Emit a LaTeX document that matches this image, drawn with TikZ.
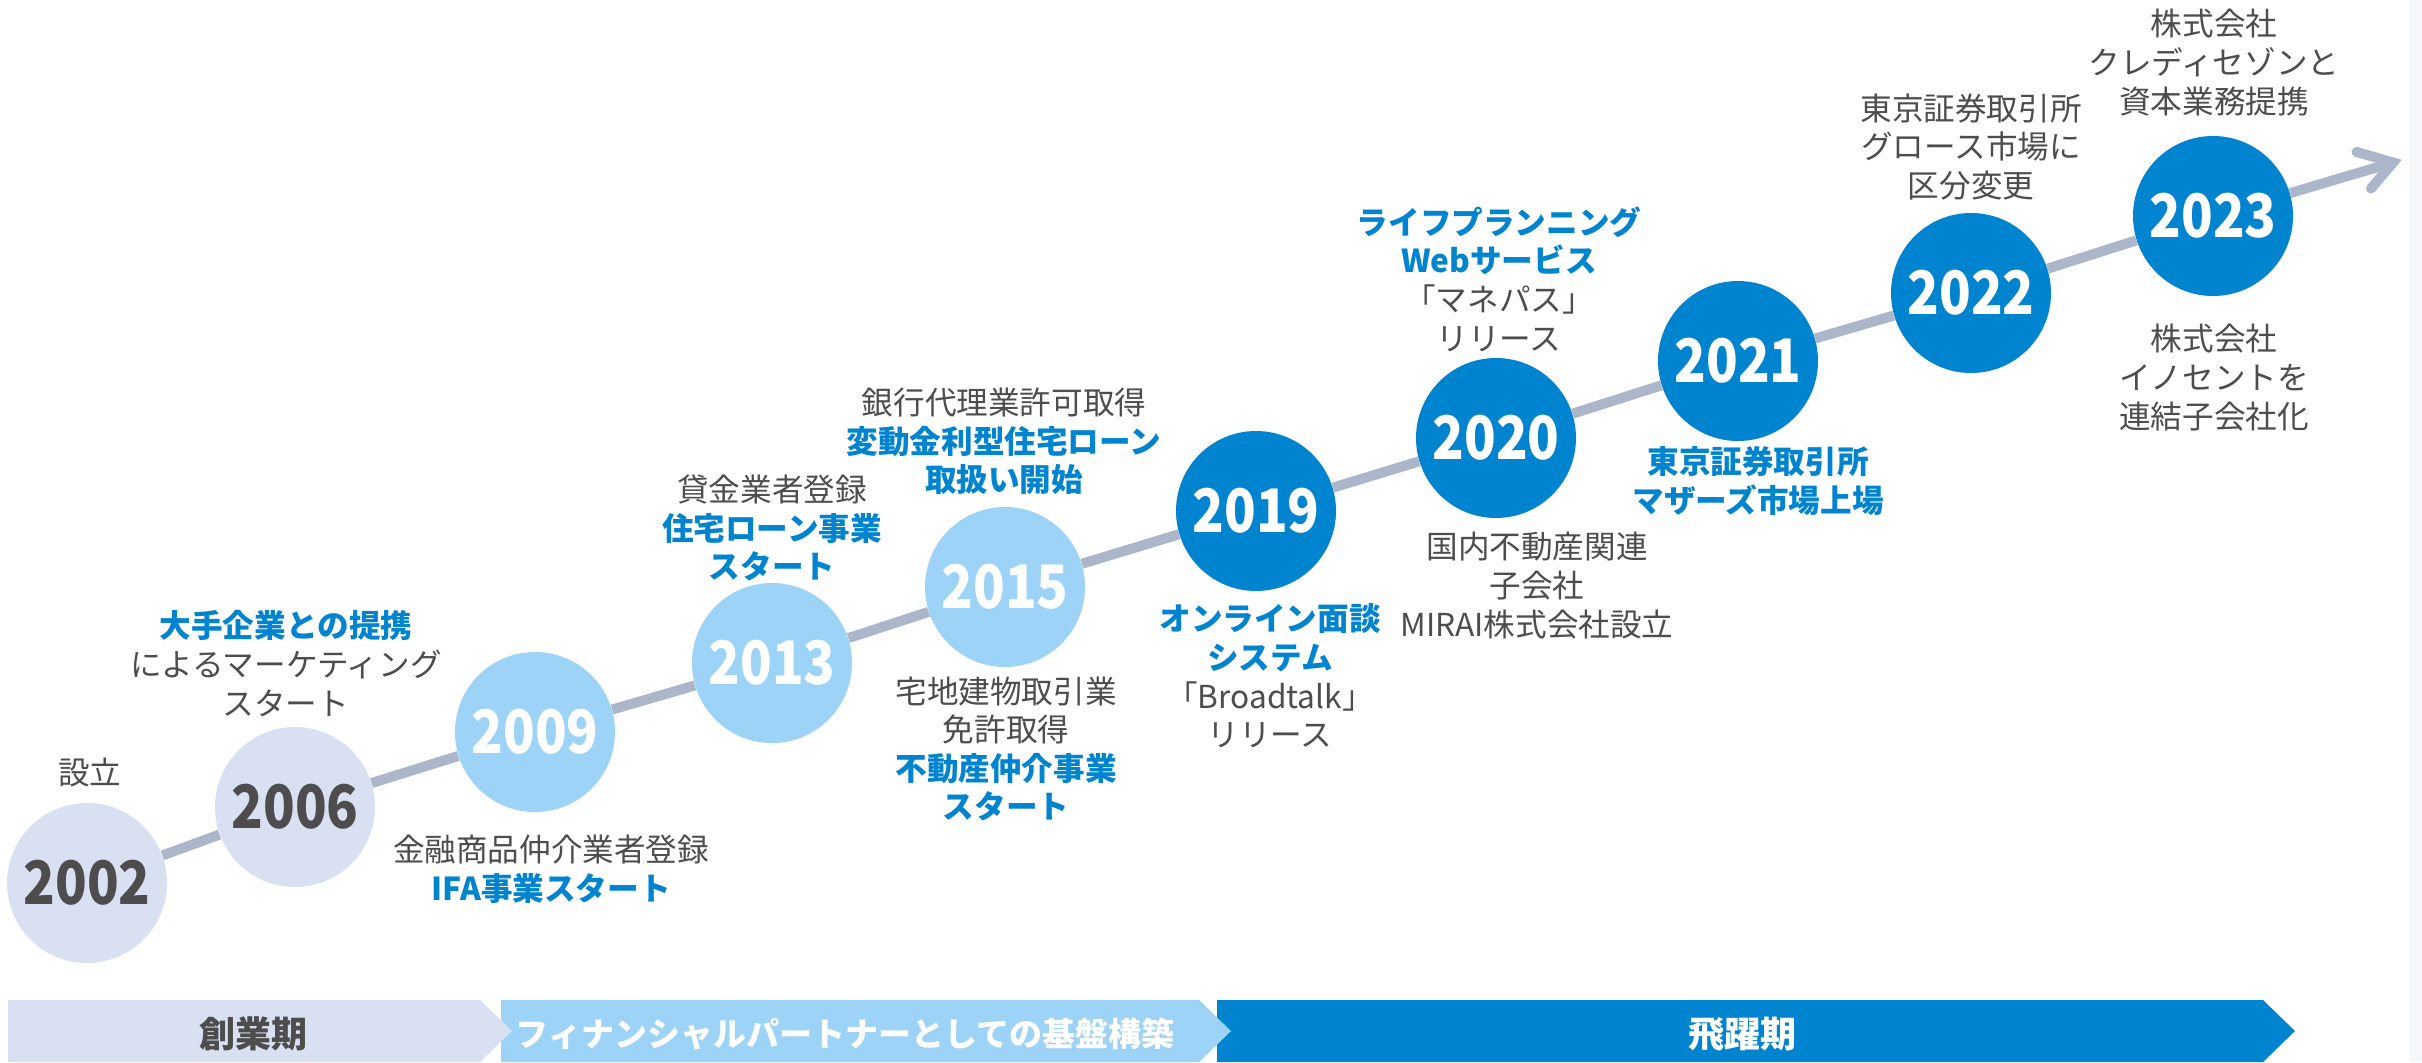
\documentclass[tikz,border=0pt]{standalone}
\usepackage{fontspec}
\setmainfont{Noto Sans CJK JP}
\definecolor{lav}{HTML}{D9E0F1}
\definecolor{lblue}{HTML}{9DD3F7}
\definecolor{dblue}{HTML}{0084CF}
\definecolor{lgray}{HTML}{ABB6CB}
\definecolor{tgray}{HTML}{4D4D4D}
\definecolor{stripc}{HTML}{F5F7FB}
\newcommand{\bluetxt}[1]{{\color{dblue}\bfseries #1}}
\newcommand{\yr}[1]{\scalebox{0.87}[1]{#1}}
\begin{document}
\begin{tikzpicture}[x=0.5pt,y=-0.5pt,
  year/.style={circle, minimum size=80pt, inner sep=0pt, font=\bfseries\fontsize{30}{30}\selectfont},
  yA/.style={year, fill=lav, text=tgray},
  yB/.style={year, fill=lblue, text=white},
  yC/.style={year, fill=dblue, text=white},
  lbl/.style={align=center, inner sep=0pt, text=tgray, font=\fontsize{15.8}{19.3}\selectfont},
  tl/.style={draw=lgray, line width=5pt},
  bartxt/.style={inner sep=0pt, font=\bfseries\fontsize{18}{18}\selectfont}
]
\fill[white] (0,0) rectangle (2422,1062);
\fill[stripc] (2409,0) rectangle (2422,1062);

% year circles
\node[yA] (y02) at (87,883) {\yr{2002}};
\node[yA] (y06) at (295,807) {\yr{2006}};
\node[yB] (y09) at (535,732) {\yr{2009}};
\node[yB] (y13) at (772,663) {\yr{2013}};
\node[yB] (y15) at (1005,587) {\yr{2015}};
\node[yC] (y19) at (1256,511) {\yr{2019}};
\node[yC] (y20) at (1496,438) {\yr{2020}};
\node[yC] (y21) at (1738,361) {\yr{2021}};
\node[yC] (y22) at (1971,293) {\yr{2022}};
\node[yC] (y23) at (2213,216) {\yr{2023}};

% timeline
\draw[tl] (y02) -- (y06);
\draw[tl] (y06) -- (y09);
\draw[tl] (y09) -- (y13);
\draw[tl] (y13) -- (y15);
\draw[tl] (y15) -- (y19);
\draw[tl] (y19) -- (y20);
\draw[tl] (y20) -- (y21);
\draw[tl] (y21) -- (y22);
\draw[tl] (y22) -- (y23);
\coordinate (tipv) at (2393,162.5);
\coordinate (armu) at (2356.5,151.9);
\coordinate (arml) at (2371,188.5);
\draw[tl] (y23) -- (tipv);
\draw[tl, line cap=round, line join=miter] (armu) -- (tipv) -- (arml);

% labels
\node[lbl] (t02) at (90,772) {設立};
\node[lbl] (t06) at (286,663.5) {\bluetxt{大手企業との提携}\\によるマーケティング\\スタート};
\node[lbl] (t09) at (551,869) {金融商品仲介業者登録\\\bluetxt{IFA事業スタート}};
\node[lbl] (t13) at (772,528) {貸金業者登録\\\bluetxt{住宅ローン事業}\\\bluetxt{スタート}};
\node[lbl] (t15a) at (1004,441.5) {銀行代理業許可取得\\\bluetxt{変動金利型住宅ローン}\\\bluetxt{取扱い開始}};
\node[lbl] (t15b) at (1006,749) {宅地建物取引業\\免許取得\\\bluetxt{不動産仲介事業}\\\bluetxt{スタート}};
\node[lbl] (t19) at (1270,676) {\bluetxt{オンライン面談}\\\bluetxt{システム}\\「Broadtalk」\\リリース};
\node[lbl] (t20a) at (1499,279) {\bluetxt{ライフプランニング}\\\bluetxt{Webサービス}\\「マネパス」\\リリース};
\node[lbl] (t20b) at (1537,585.5) {国内不動産関連\\子会社\\MIRAI株式会社設立};
\node[lbl] (t21) at (1758,481) {\bluetxt{東京証券取引所}\\\bluetxt{マザーズ市場上場}};
\node[lbl] (t22) at (1971,147) {東京証券取引所\\グロース市場に\\区分変更};
\node[lbl] (t23a) at (2214,62.5) {株式会社\\クレディセゾンと\\資本業務提携};
\node[lbl] (t23b) at (2214,377.5) {株式会社\\イノセントを\\連結子会社化};

% phase bars
\fill[dblue] (1217,1000) -- (2263,1000) -- (2295,1031) -- (2263,1062) -- (1217,1062) -- cycle;
\fill[lblue] (501,1000) -- (1199,1000) -- (1231,1031) -- (1199,1062) -- (501,1062) -- cycle;
\fill[lav] (8,1000) -- (480,1000) -- (512,1031) -- (480,1062) -- (8,1062) -- cycle;
\node[bartxt, text=tgray] (p1) at (253,1034) {創業期};
\node[bartxt, text=white, font=\bfseries\fontsize{16.5}{16.5}\selectfont] (p2) at (845,1034) {フィナンシャルパートナーとしての基盤構築};
\node[bartxt, text=white] (p3) at (1742,1034) {飛躍期};
\end{tikzpicture}
\end{document}
